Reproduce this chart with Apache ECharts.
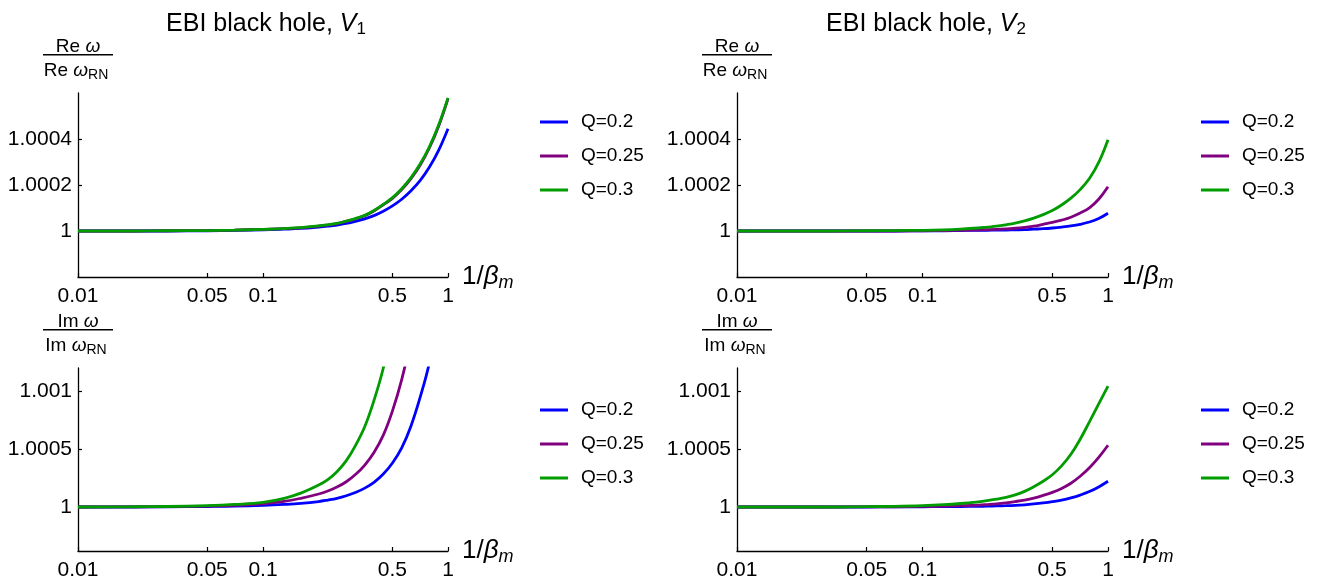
<!DOCTYPE html>
<html>
<head>
<meta charset="utf-8">
<script src="https://cdn.jsdelivr.net/npm/echarts@6/dist/echarts.min.js"></script>
<style>
html,body{margin:0;padding:0;background:#fff;}
#chart{width:1323px;height:584px;}
</style>
</head>
<body>
<div id="chart"></div>
<script>
// ---- data ----
const xVals = [0.01,0.02,0.03,0.05,0.07,0.1,0.13,0.16,0.2,0.224,0.251,0.282,0.316,0.355,0.398,0.447,0.501,0.562,0.631,0.708,0.794,0.891,1];
const seriesNames = ['Q=0.2','Q=0.25','Q=0.3'];
const xTickVals = [0.01,0.05,0.1,0.5,1];
const xTickLabels = ['0.01','0.05','0.1','0.5','1'];
const reTickVals = [1,1.0002,1.0004];
const reTickLabels = ['1','1.0002','1.0004'];
const imTickVals = [1,1.0005,1.001];
const imTickLabels = ['1','1.0005','1.001'];

// Re ω / Re ω_RN, V1
const reV1_Q02  = [1,1,1,1.000001,1.000003,1.000005,1.000008,1.000011,1.000017,1.000021,1.000026,1.000033,1.000042,1.000053,1.000067,1.000086,1.000109,1.000138,1.000175,1.00022,1.000278,1.000352,1.000445];
const reV1_Q025 = [1,1,1.000001,1.000002,1.000004,1.000007,1.00001,1.000014,1.000021,1.000026,1.000032,1.000042,1.000053,1.000067,1.000087,1.000114,1.000142,1.00018,1.000228,1.000287,1.000362,1.000457,1.000575];
const reV1_Q03  = [1,1,1.000001,1.000002,1.000004,1.000007,1.00001,1.000015,1.000022,1.000027,1.000033,1.000043,1.000054,1.000068,1.000089,1.000116,1.000145,1.000184,1.000232,1.000292,1.000367,1.000462,1.000579];
// Re ω / Re ω_RN, V2
const reV2_Q02  = [1,1,1,1,1,1.000001,1.000001,1.000002,1.000003,1.000003,1.000004,1.000004,1.000005,1.000006,1.000008,1.00001,1.000013,1.000017,1.000022,1.000029,1.000039,1.000054,1.000077];
const reV2_Q025 = [1,1,1,1,1,1.000001,1.000002,1.000003,1.000005,1.000006,1.000007,1.000009,1.000012,1.000016,1.000021,1.000029,1.000037,1.000047,1.00006,1.000078,1.000101,1.000138,1.000192];
const reV2_Q03  = [1,1,1,1.000001,1.000002,1.000003,1.000005,1.000008,1.000013,1.000017,1.000021,1.000027,1.000034,1.000044,1.000056,1.000071,1.000089,1.000113,1.000143,1.00018,1.000228,1.000298,1.000397];
// Im ω / Im ω_RN, V1 (curves leave the plot at the top)
const imV1_Q02  = [1,1,1.000001,1.000004,1.000007,1.000014,1.000022,1.000031,1.000047,1.00006,1.000075,1.000097,1.000125,1.000163,1.000213,1.000285,1.00038,1.00051,1.0007,1.00095,1.00125,1.0017,null];
const imV1_Q025 = [1,1.000001,1.000003,1.000008,1.000015,1.000028,1.000048,1.000075,1.000112,1.000138,1.000172,1.000218,1.00028,1.000362,1.00047,1.00062,1.00083,1.0011,1.00145,null,null,null,null];
const imV1_Q03  = [1,1.000002,1.000004,1.000012,1.000022,1.00004,1.000075,1.00012,1.00019,1.000237,1.000305,1.0004,1.00053,1.000695,1.00092,1.0012,1.00158,null,null,null,null,null,null];
// Im ω / Im ω_RN, V2
const imV2_Q02  = [1,1,1,1,1.000001,1.000002,1.000003,1.000004,1.000006,1.000007,1.000009,1.000011,1.000014,1.000019,1.000026,1.000035,1.000046,1.00006,1.000079,1.000103,1.000133,1.000173,1.000222];
const imV2_Q025 = [1,1,1,1.000001,1.000002,1.000005,1.000008,1.000011,1.000016,1.000021,1.000027,1.000036,1.000047,1.00006,1.000077,1.0001,1.000126,1.00016,1.000205,1.000265,1.000338,1.000428,1.000533];
const imV2_Q03  = [1,1,1,1.000003,1.000006,1.000012,1.00002,1.00003,1.000045,1.000055,1.000067,1.000083,1.000105,1.000135,1.000175,1.000222,1.000278,1.000355,1.000455,1.000585,1.000735,1.00089,1.001043];

// ---- chart ----
const FONT = 'Liberation Sans, Arial, sans-serif';
const colors = ['#0000ff','#800080','#009c00'];

function pairs(ys){
  const out = [];
  ys.forEach((y,i)=>{ if(y!==null) out.push([xVals[i], y]); });
  return out;
}
function labelFor(vals, labels){
  return function(v){
    let best = 0, bd = Infinity;
    vals.forEach((t,i)=>{ const d = Math.abs(Math.log(t)-Math.log(v)); if(d<bd){bd=d;best=i;} });
    return labels[best];
  };
}
function ylabelFor(vals, labels){
  return function(v){
    let best = 0, bd = Infinity;
    vals.forEach((t,i)=>{ const d = Math.abs(t-v); if(d<bd){bd=d;best=i;} });
    return labels[best];
  };
}

const grids = [
  {left:78, top:93, width:370, height:184},
  {left:737, top:93, width:371, height:184},
  {left:78, top:368, width:370, height:183},
  {left:737, top:368, width:371, height:183}
];

const axisLineStyle = {color:'#000', width:1.3};
const xAxes = grids.map((g,i)=>({
  type:'log', gridIndex:i, min:0.01, max:1, logBase:10,
  axisLine:{show:true, onZero:false, lineStyle:axisLineStyle},
  axisTick:{show:true, inside:true, length:4, customValues:xTickVals, lineStyle:{color:'#000', width:1.2}},
  axisLabel:{show:true, customValues:xTickVals, formatter:labelFor(xTickVals,xTickLabels), fontSize:21, color:'#000', fontFamily:FONT, margin:9},
  splitLine:{show:false}, minorTick:{show:false},
  name:'{a|1/}{b|β}{m|m}', nameLocation:'end', nameGap:14,
  nameTextStyle:{rich:{
    a:{fontSize:26, fontFamily:FONT, color:'#000'},
    b:{fontSize:26, fontFamily:FONT, fontStyle:'italic', color:'#000'},
    m:{fontSize:18, fontFamily:FONT, fontStyle:'italic', color:'#000', padding:[12,0,0,0]}
  }}
}));

const yAxes = grids.map((g,i)=>{
  const re = i < 2;
  const vals = re ? reTickVals : imTickVals;
  const labs = re ? reTickLabels : imTickLabels;
  return {
    type:'value', gridIndex:i,
    min: re ? 0.9998 : 0.99962,
    max: re ? 1.0006 : 1.0012,
    axisLine:{show:true, onZero:false, lineStyle:axisLineStyle},
    axisTick:{show:true, inside:true, length:4, customValues:vals, lineStyle:{color:'#000', width:1.2}},
    axisLabel:{show:true, customValues:vals, formatter:ylabelFor(vals,labs), fontSize:21, color:'#000', fontFamily:FONT, margin:6},
    splitLine:{show:false}
  };
});

const panelData = [
  [reV1_Q02, reV1_Q025, reV1_Q03],
  [reV2_Q02, reV2_Q025, reV2_Q03],
  [imV1_Q02, imV1_Q025, imV1_Q03],
  [imV2_Q02, imV2_Q025, imV2_Q03]
];
const series = [];
panelData.forEach((arrs,p)=>{
  arrs.forEach((ys,k)=>{
    series.push({
      type:'line', name:seriesNames[k], xAxisIndex:p, yAxisIndex:p,
      data:pairs(ys), smooth:0.4, showSymbol:false, symbol:'none', clip:true,
      lineStyle:{color:colors[k], width:2.8}, itemStyle:{color:colors[k]},
      z: 2 + k
    });
  });
});

const legendPos = [
  {left:540, top:112}, {left:1201, top:112},
  {left:540, top:400}, {left:1201, top:400}
];
const legends = legendPos.map(lp=>({
  left:lp.left, top:lp.top, orient:'vertical', data:seriesNames, padding:0,
  icon:'rect', itemWidth:28, itemHeight:3, itemGap:14,
  selectedMode:false,
  textStyle:{fontSize:19, fontFamily:FONT, color:'#000', padding:[0,0,0,8], lineHeight:20}
}));

const titleRich = {
  a:{fontSize:25, fontFamily:FONT, fontWeight:'normal', color:'#000'},
  v:{fontSize:25, fontFamily:FONT, fontWeight:'normal', fontStyle:'italic', color:'#000'},
  s:{fontSize:17, fontFamily:FONT, fontWeight:'normal', color:'#000', padding:[11,0,0,0]}
};
const titles = [
  {text:'{a|EBI black hole, }{v|V}{s|1}', left:261, top:5, textAlign:'center', textStyle:{fontWeight:'normal', rich:titleRich}},
  {text:'{a|EBI black hole, }{v|V}{s|2}', left:921, top:5, textAlign:'center', textStyle:{fontWeight:'normal', rich:titleRich}}
];

function fraction(cx, top, word){
  const rich = {
    t:{fontSize:19, fontFamily:FONT, fill:'#000'},
    i:{fontSize:19, fontFamily:FONT, fontStyle:'italic', fill:'#000'},
    s:{fontSize:14, fontFamily:FONT, fill:'#000', padding:[8,0,0,0]}
  };
  return [
    {type:'text', x:cx, y:top, style:{text:'{t|'+word+' }{i|ω}', rich:rich, align:'center', verticalAlign:'middle', fill:'#000'}},
    {type:'rect', shape:{x:cx-35, y:top+7, width:70, height:1.6}, style:{fill:'#000'}},
    {type:'text', x:cx-2, y:top+24, style:{text:'{t|'+word+' }{i|ω}{s|RN}', rich:rich, align:'center', verticalAlign:'middle', fill:'#000'}}
  ];
}
const graphics = [].concat(
  fraction(78, 47, 'Re'),
  fraction(737, 47, 'Re'),
  fraction(78, 322, 'Im'),
  fraction(737, 322, 'Im')
);

const chart = echarts.init(document.getElementById('chart'), null, {renderer:'canvas'});
chart.setOption({
  animation:false,
  backgroundColor:'#fff',
  title:titles,
  grid:grids.map(g=>Object.assign({containLabel:false}, g)),
  xAxis:xAxes,
  yAxis:yAxes,
  legend:legends,
  series:series,
  graphic:graphics
});
</script>
</body>
</html>
